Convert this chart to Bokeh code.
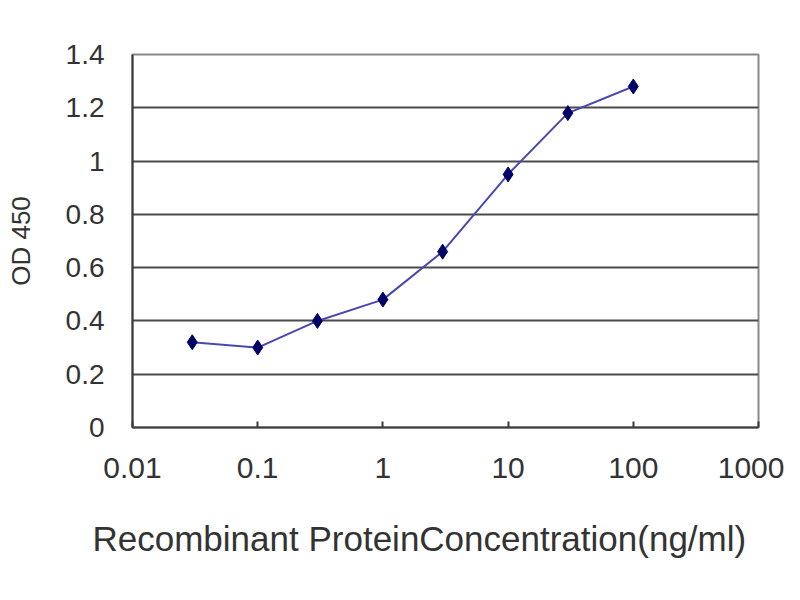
from bokeh.plotting import figure
from bokeh.models import FixedTicker, CustomJSTickFormatter, Range1d, Title
from bokeh.embed import file_html
from bokeh.resources import INLINE

# ELISA standard curve
conc = [0.03, 0.1, 0.3, 1, 3, 10, 30, 100]
od450 = [0.32, 0.30, 0.40, 0.48, 0.66, 0.95, 1.18, 1.28]

x_ticks = [0.01, 0.1, 1, 10, 100, 1000]
y_ticks = [0, 0.2, 0.4, 0.6, 0.8, 1.0, 1.2, 1.4]

FONT = "Liberation Sans"

p = figure(width=784, height=595, x_axis_type="log",
           x_range=Range1d(0.01, 1000), y_range=Range1d(0, 1.4),
           output_backend="svg", toolbar_location=None,
           min_border_left=132, min_border_right=26,
           min_border_top=54, min_border_bottom=168)

p.background_fill_color = "white"
p.border_fill_color = "white"
p.outline_line_color = "#8a8a8a"
p.outline_line_width = 2

# grid
p.xgrid.visible = False
p.ygrid.ticker = FixedTicker(ticks=y_ticks)
p.ygrid.grid_line_color = "#4a4a4a"
p.ygrid.grid_line_width = 2

# x axis (its label sits left of centre, so it goes in as a title below)
p.xaxis.ticker = FixedTicker(ticks=x_ticks)
p.xaxis.formatter = CustomJSTickFormatter(code="return tick.toString();")
p.xaxis.major_tick_in = 6
p.xaxis.major_tick_out = 0
p.xaxis.minor_tick_in = 0
p.xaxis.minor_tick_out = 0
p.xaxis.major_label_standoff = 30
p.xaxis.major_label_text_font_size = "30px"

xlabel = Title(text="Recombinant ProteinConcentration(ng/ml)", align="left",
               offset=-40, standoff=73, text_font=FONT, text_font_size="35px",
               text_font_style="normal", text_color="#333333")
p.add_layout(xlabel, "below")

# y axis
p.yaxis.ticker = FixedTicker(ticks=y_ticks)
p.yaxis.formatter = CustomJSTickFormatter(code="return Number(tick.toFixed(1)).toString();")
p.yaxis.axis_label = "OD 450"
p.yaxis.major_tick_in = 0
p.yaxis.major_tick_out = 0
p.yaxis.minor_tick_in = 0
p.yaxis.minor_tick_out = 0
p.yaxis.major_label_standoff = 28
p.yaxis.axis_label_standoff = 27
p.yaxis.major_label_text_font_size = "28px"
p.yaxis.axis_label_text_font_size = "26px"

for ax in (p.xaxis, p.yaxis):
    ax.axis_line_color = "#3a3a3a"
    ax.axis_line_width = 2
    ax.major_tick_line_color = "#3a3a3a"
    ax.major_tick_line_width = 2
    ax.major_label_text_font = FONT
    ax.major_label_text_color = "#333333"
    ax.axis_label_text_font = FONT
    ax.axis_label_text_font_style = "normal"
    ax.axis_label_text_color = "#333333"

p.line(conc, od450, line_color="#4848b0", line_width=2)
p.scatter(conc, od450, marker="diamond", size=15,
          fill_color="#000066", line_color="#000066")

open("out.html", "w").write(file_html(p, INLINE))
